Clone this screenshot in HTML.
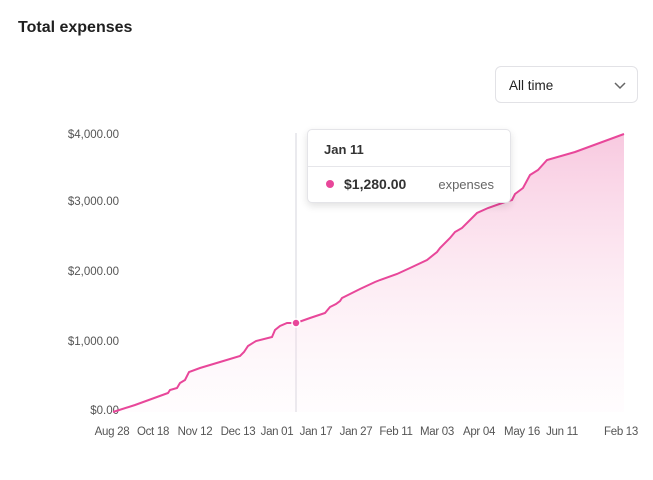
<!DOCTYPE html>
<html><head><style>
body{margin:0;width:653px;height:480px;background:#fff;font-family:"Liberation Sans",sans-serif;overflow:hidden;position:relative}
.t{position:absolute;left:18px;top:19px;font-size:16px;font-weight:bold;color:#1f1f1f}
.sel{position:absolute;left:495px;top:66px;width:143px;height:37px;border:1px solid #e2e2e6;border-radius:6px;box-sizing:border-box}
.sel span{position:absolute;left:13px;top:11px;font-size:13.5px;color:#222}
.yl{position:absolute;right:534px;font-size:11.5px;color:#555;text-align:right}
.xl{position:absolute;top:426px;font-size:11.5px;color:#555;transform:translateX(-50%);white-space:nowrap;letter-spacing:-0.3px}
.tip{position:absolute;left:307px;top:129px;width:202px;height:72px;border:1px solid #e4e4e8;border-radius:5px;background:#fff;box-shadow:0 3px 8px rgba(0,0,0,.12)}
</style></head><body>
<div class="t">Total expenses</div>
<div class="sel"><span>All time</span><svg style="position:absolute;left:118px;top:15px" width="12" height="8"><path d="M1 1 L6 6 L11 1" stroke="#666" stroke-width="1.5" fill="none"/></svg></div>
<div class="yl" style="top:129px">$4,000.00</div>
<div class="yl" style="top:196px">$3,000.00</div>
<div class="yl" style="top:266px">$2,000.00</div>
<div class="yl" style="top:336px">$1,000.00</div>
<div class="yl" style="top:405px">$0.00</div>
<div class="xl" style="left:112px">Aug 28</div>
<div class="xl" style="left:153px">Oct 18</div>
<div class="xl" style="left:195px">Nov 12</div>
<div class="xl" style="left:238px">Dec 13</div>
<div class="xl" style="left:277px">Jan 01</div>
<div class="xl" style="left:316px">Jan 17</div>
<div class="xl" style="left:356px">Jan 27</div>
<div class="xl" style="left:396px">Feb 11</div>
<div class="xl" style="left:437px">Mar 03</div>
<div class="xl" style="left:479px">Apr 04</div>
<div class="xl" style="left:522px">May 16</div>
<div class="xl" style="left:562px">Jun 11</div>
<div class="xl" style="left:621px">Feb 13</div>
<svg style="position:absolute;left:0;top:0" width="653" height="480">
<defs><linearGradient id="g" x1="0" y1="0" x2="0" y2="1"><stop offset="0" stop-color="#f7c3dc" stop-opacity=".9"/><stop offset="1" stop-color="#fde8f2" stop-opacity="0.1"/></linearGradient></defs>
<line x1="296" y1="133" x2="296" y2="412" stroke="#d4d4dc" stroke-width="1"/>
<path d="M113,412 L135,405 L168,393 L170,390 L177,388 L180,383 L185,380 L189,372 L200,368 L220,362 L240,356 L244,352 L248,346 L256,341 L272,337 L275,330 L280,326 L287,323 L296,323 L310,318 L325,313 L330,307 L336,304 L340,301 L342,298 L360,289 L375,282 L380,280 L397,274 L410,268 L427,260 L437,252 L440,248 L450,238 L455,232 L462,228 L477,213 L488,208 L505,202 L512,200 L515,194 L523,188 L530,175 L538,170 L547,160 L575,152 L624,134 L624,412 Z" fill="url(#g)"/>
<path d="M113,412 L135,405 L168,393 L170,390 L177,388 L180,383 L185,380 L189,372 L200,368 L220,362 L240,356 L244,352 L248,346 L256,341 L272,337 L275,330 L280,326 L287,323 L296,323 L310,318 L325,313 L330,307 L336,304 L340,301 L342,298 L360,289 L375,282 L380,280 L397,274 L410,268 L427,260 L437,252 L440,248 L450,238 L455,232 L462,228 L477,213 L488,208 L505,202 L512,200 L515,194 L523,188 L530,175 L538,170 L547,160 L575,152 L624,134" fill="none" stroke="#e8479a" stroke-width="2"/>
<circle cx="296" cy="323" r="4" fill="#e8479a" stroke="#fff" stroke-width="1.5"/>
</svg>
<div class="tip">
<div style="position:absolute;left:16px;top:12px;font-size:13px;font-weight:bold;color:#333">Jan 11</div>
<div style="position:absolute;left:0;right:0;top:36px;border-top:1px solid #e6e6ea"></div>
<div style="position:absolute;left:18px;top:50px;width:8px;height:8px;border-radius:50%;background:#e8479a"></div>
<div style="position:absolute;left:36px;top:46px;font-size:14px;font-weight:bold;color:#333">$1,280.00</div>
<div style="position:absolute;right:16px;top:47px;font-size:13px;color:#666">expenses</div>
</div>
</body></html>
